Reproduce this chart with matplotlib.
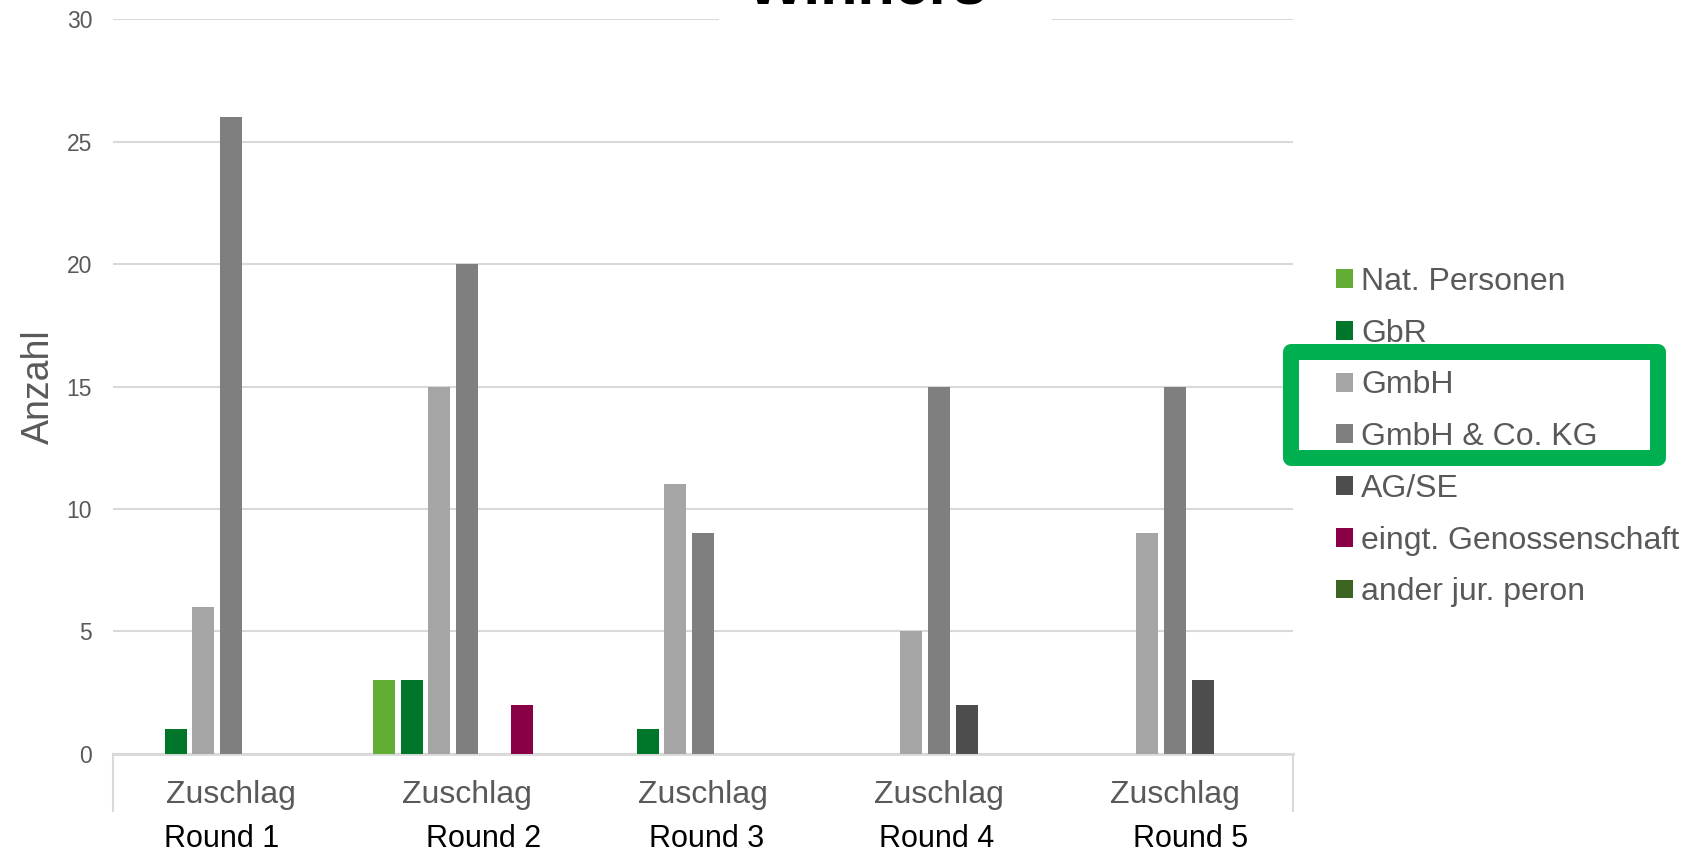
import numpy as np
import matplotlib.pyplot as plt
from matplotlib.patches import Rectangle
from matplotlib.lines import Line2D

plt.rcParams['font.family'] = ['Liberation Sans', 'DejaVu Sans']

# chart data
categories = ["Zuschlag", "Zuschlag", "Zuschlag", "Zuschlag", "Zuschlag"]
rounds = ["Round 1", "Round 2", "Round 3", "Round 4", "Round 5"]
series_names = ["Nat. Personen", "GbR", "GmbH", "GmbH & Co. KG", "AG/SE",
                "eingt. Genossenschaft", "ander jur. peron"]
nat_personen = [0, 3, 0, 0, 0]
gbr = [1, 3, 1, 0, 0]
gmbh = [6, 15, 11, 5, 9]
gmbh_co_kg = [26, 20, 9, 15, 15]
ag_se = [0, 0, 0, 2, 3]
genossenschaft = [0, 2, 0, 0, 0]
andere_jur = [0, 0, 0, 0, 0]
y_ticks = [0, 5, 10, 15, 20, 25, 30]

values = [nat_personen, gbr, gmbh, gmbh_co_kg, ag_se, genossenschaft, andere_jur]
colors = ["#62AE35", "#00762A", "#A5A5A5", "#7F7F7F", "#4D4D4D", "#8A0046", "#3B6420"]
text_gray = "#595959"
grid_gray = "#D9D9D9"

W, H = 1698, 858
fig = plt.figure(figsize=(W / 100, H / 100), dpi=100)
ax = fig.add_axes([113 / W, 1 - 753.7 / H, (1293 - 113) / W, (753.7 - 19.3) / H])

x = np.arange(len(categories))
slot = 0.117
bar_w = 0.093
for i in range(len(series_names)):
    ax.bar(x + (i - 3) * slot, values[i], width=bar_w, color=colors[i],
           label=series_names[i], zorder=3)

ax.set_xlim(-0.5, len(categories) - 0.5)
ax.set_ylim(0, 30)
ax.set_yticks(y_ticks)
ax.yaxis.grid(True, color=grid_gray, linewidth=1.5, zorder=0)
ax.set_axisbelow(True)
for s in ["left", "right", "top"]:
    ax.spines[s].set_visible(False)
ax.spines["bottom"].set_color(grid_gray)
ax.spines["bottom"].set_linewidth(2)
ax.tick_params(axis="y", length=0, pad=15, labelsize=16.5, labelcolor=text_gray)
ax.tick_params(axis="x", length=0, pad=19, labelsize=23, labelcolor=text_gray)
ax.set_xticks(x)
ax.set_xticklabels(categories)

# category boundary lines below the axis
for xb in [0, 1]:
    ax.add_line(Line2D([xb, xb], [0, -0.078], transform=ax.transAxes,
                       color=grid_gray, linewidth=1.5, clip_on=False))

ax.set_ylabel("Anzahl", fontsize=27, color=text_gray, labelpad=7)

# round labels (separate text boxes, slightly off-center)
round_offsets = [-0.038, 0.072, 0.017, -0.008, 0.068]
for i, r in enumerate(rounds):
    ax.text(x[i] + round_offsets[i], -0.1165, r, transform=ax.get_xaxis_transform(),
            ha="center", va="center", fontsize=22, color="black")

# legend
leg = fig.legend(loc="upper left", bbox_to_anchor=(1336 / W, 1 - 267 / H),
                 frameon=False, fontsize=23, labelcolor=text_gray,
                 handlelength=0.53, handleheight=0.53, handletextpad=0.25,
                 labelspacing=0.68, borderpad=0, borderaxespad=0)

# title mostly cut off at the top, with white box over the gridline
fig.add_artist(Rectangle((719 / W, 1 - 26 / H), (1052 - 719) / W, 26 / H,
                         transform=fig.transFigure, facecolor="white",
                         edgecolor="none", zorder=5))
fig.text(867 / W, 1 - 3.5 / H, "Winners", ha="center", va="baseline",
         fontsize=44, fontweight="bold", color="black", zorder=6)

# green highlight box round GmbH entries
fig.add_artist(Rectangle((1291 / W, 1 - 458 / H), (1658 - 1291) / W, (458 - 352) / H,
                         transform=fig.transFigure, facecolor="none",
                         edgecolor="#00B050", linewidth=11.5, joinstyle="round",
                         zorder=7))

fig.savefig("out.png", dpi=100)
